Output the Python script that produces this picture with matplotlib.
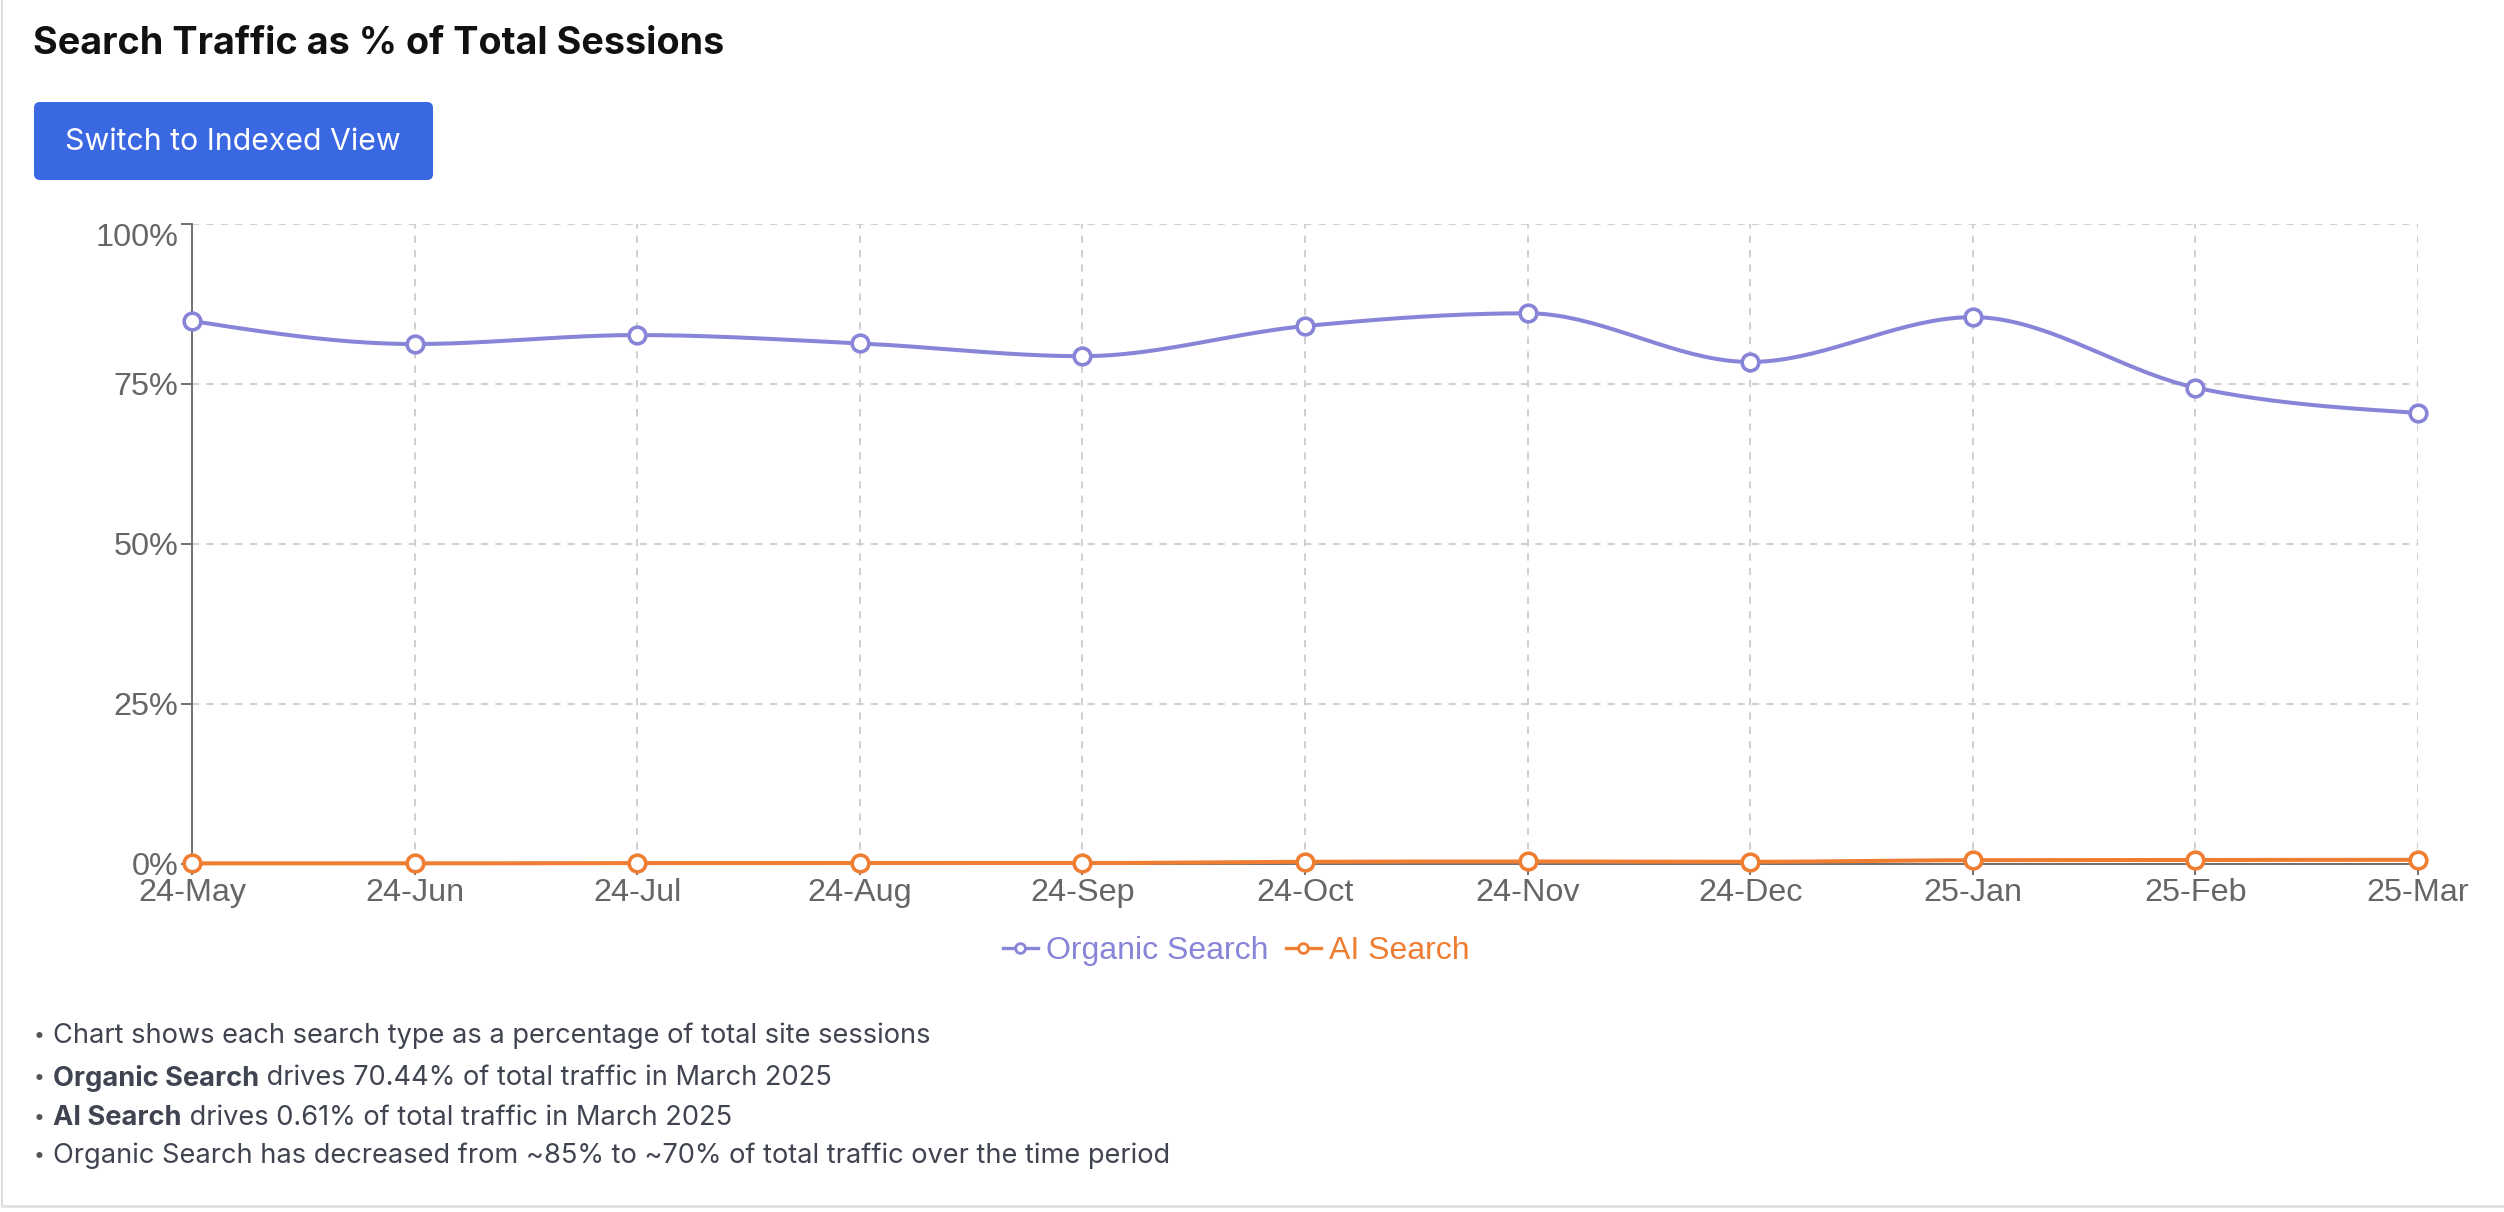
import numpy as np
import matplotlib
matplotlib.use("Agg")
import matplotlib.pyplot as plt
import matplotlib.transforms as mtransforms
from matplotlib.patches import FancyBboxPatch
from matplotlib.lines import Line2D

# data
months = ["24-May", "24-Jun", "24-Jul", "24-Aug", "24-Sep", "24-Oct",
          "24-Nov", "24-Dec", "25-Jan", "25-Feb", "25-Mar"]
organic = [84.8, 81.2, 82.6, 81.3, 79.3, 84.0, 86.0, 78.4, 85.4, 74.4, 70.44]
ai_search = [0.05, 0.05, 0.1, 0.1, 0.1, 0.3, 0.35, 0.3, 0.55, 0.58, 0.61]
y_ticks = [0, 25, 50, 75, 100]

notes = [
    ("", "Chart shows each search type as a percentage of total site sessions"),
    ("Organic Search", " drives 70.44% of total traffic in March 2025"),
    ("AI Search", " drives 0.61% of total traffic in March 2025"),
    ("", "Organic Search has decreased from ~85% to ~70% of total traffic over the time period"),
]

PURPLE = "#8884d8"
ORANGE = "#ef7d32"
W, H = 2504, 1212


def monotone(x, y, n=40):
    # d3 curveMonotoneX style smoothing between the points
    x = np.asarray(x, float)
    y = np.asarray(y, float)
    h = np.diff(x)
    s = np.diff(y) / h
    t = np.zeros(len(x))
    for i in range(1, len(x) - 1):
        p = (s[i - 1] * h[i] + s[i] * h[i - 1]) / (h[i - 1] + h[i])
        t[i] = (np.sign(s[i - 1]) + np.sign(s[i])) * min(abs(s[i - 1]), abs(s[i]), 0.5 * abs(p))
    t[0] = (3 * s[0] - t[1]) / 2
    t[-1] = (3 * s[-1] - t[-2]) / 2
    xs, ys = [], []
    for i in range(len(x) - 1):
        u = np.linspace(0, 1, n)
        h00 = 2 * u**3 - 3 * u**2 + 1
        h10 = u**3 - 2 * u**2 + u
        h01 = -2 * u**3 + 3 * u**2
        h11 = u**3 - u**2
        xs.append(x[i] + u * h[i])
        ys.append(h00 * y[i] + h10 * h[i] * t[i] + h01 * y[i + 1] + h11 * h[i] * t[i + 1])
    return np.concatenate(xs), np.concatenate(ys)


fig = plt.figure(figsize=(W / 100, H / 100), dpi=100)
fig.patch.set_facecolor("white")

# page layer in pixel coordinates
bg = fig.add_axes([0, 0, 1, 1], zorder=0)
bg.set_xlim(0, W)
bg.set_ylim(H, 0)
bg.axis("off")
bg.plot([2, 2], [0, 1206], color="#dddddd", lw=1.5)
bg.plot([2, W], [1206, 1206], color="#e2e2e2", lw=2)

bg.text(33, 44, "Search Traffic as % of Total Sessions", fontsize=27.2, fontweight="bold",
        family="Inter", color="#111111", va="center", ha="left")

btn = FancyBboxPatch((34, 102), 399, 78, boxstyle="round,pad=0,rounding_size=6",
                     facecolor="#3a67e2", edgecolor="none")
bg.add_patch(btn)
bg.text(233, 142, "Switch to Indexed View", fontsize=21.8, family="Inter",
        color="white", va="center", ha="center")

# chart
ax = fig.add_axes([192 / W, 1 - 863.7 / H, (2418 - 192) / W, (863.7 - 223.7) / H], zorder=1)
ax.patch.set_alpha(0)
x = np.arange(len(months))

ax.set_xlim(0, len(months) - 1)
ax.set_ylim(0, 100)
ax.set_yticks(y_ticks)
ax.set_yticklabels([f"{v}%" for v in y_ticks])
ax.set_xticks(x)
ax.set_xticklabels(months)
ax.grid(True, color="#cccccc", linestyle=(0, (4, 4)), linewidth=1.3)
ax.set_axisbelow(True)
for side in ["top", "right"]:
    ax.spines[side].set_visible(False)
for side in ["left", "bottom"]:
    ax.spines[side].set_color("#666666")
    ax.spines[side].set_linewidth(1.3)
ax.tick_params(colors="#666666", labelsize=23.3, length=8, width=1.3, pad=2)
for lab in ax.get_xticklabels() + ax.get_yticklabels():
    lab.set_family("Liberation Sans")
    lab.set_color("#666666")
# the top label sits a little below its tick, as in the reference
top_lab = ax.get_yticklabels()[-1]
top_lab.set_transform(top_lab.get_transform() +
                      mtransforms.ScaledTranslation(0, -11 / 100, fig.dpi_scale_trans))

for vals, col in [(organic, PURPLE), (ai_search, ORANGE)]:
    sx, sy = monotone(x, vals)
    ax.plot(sx, sy, color=col, lw=2.9, clip_on=False, zorder=3)
    ax.plot(x, vals, "o", ms=12, mfc="white", mec=col, mew=2.6, clip_on=False, zorder=4)

# legend
handles = [Line2D([0], [0], color=PURPLE, lw=2.4, marker="o", ms=7, mfc="white", mec=PURPLE, mew=2),
           Line2D([0], [0], color=ORANGE, lw=2.4, marker="o", ms=7, mfc="white", mec=ORANGE, mew=2)]
leg = fig.legend(handles, ["Organic Search", "AI Search"], loc="center",
                 bbox_to_anchor=(1236 / W, 1 - 951 / H), ncol=2, frameon=False,
                 prop={"family": "Liberation Sans", "size": 23}, handlelength=1.1,
                 handletextpad=0.25, columnspacing=0.55)
for txt, col in zip(leg.get_texts(), [PURPLE, ORANGE]):
    txt.set_color(col)

# notes under the chart
fig.canvas.draw()
renderer = fig.canvas.get_renderer()
line_y = [1036, 1078, 1118, 1156]
for (bold, rest), yy in zip(notes, line_y):
    bg.text(34, yy, "•", fontsize=14, family="Inter", color="#555555", va="center", ha="left")
    xpos = 53
    if bold:
        tb = bg.text(xpos, yy, bold, fontsize=19.6, family="Inter", fontweight="bold",
                     color="#3f4450", va="center", ha="left")
        bb = tb.get_window_extent(renderer)
        xpos += bb.width
    bg.text(xpos, yy, rest, fontsize=19.6, family="Inter", color="#3f4450",
            va="center", ha="left")

fig.savefig("out.png", dpi=100, facecolor="white")
